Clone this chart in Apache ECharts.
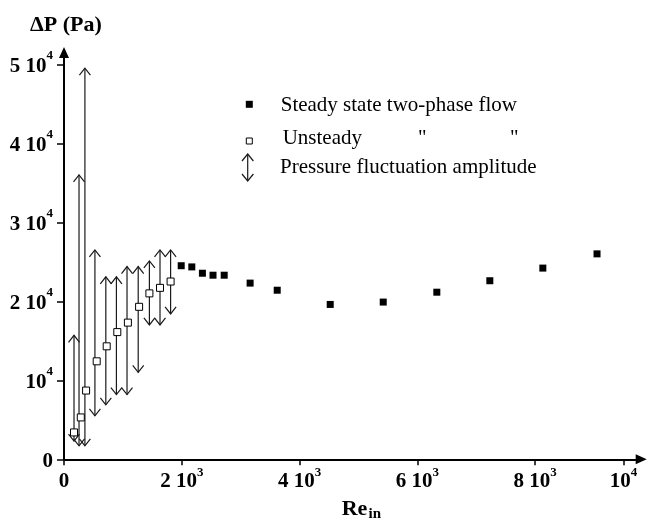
<!DOCTYPE html>
<html><head><meta charset="utf-8">
<script src="https://cdn.jsdelivr.net/npm/echarts@6/dist/echarts.min.js"></script>
<style>html,body{margin:0;padding:0;background:#fff}#c{width:648px;height:520px}</style>
</head><body><div id="c"></div>
<script>
// Steady state two-phase flow (filled squares)
const steadyRe = [1990, 2170, 2350, 2530, 2720, 3160, 3620, 4520, 5420, 6330, 7230, 8130, 9050];
const steadyDP = [24500, 24350, 23550, 23300, 23300, 22300, 21400, 19600, 19900, 21150, 22600, 24200, 26000];
// Unsteady two-phase flow (open squares)
const unsteadyRe = [170, 285, 375, 555, 725, 905, 1085, 1275, 1450, 1630, 1810];
const unsteadyDP = [3400, 5300, 8700, 12400, 14300, 16100, 17300, 19300, 21000, 21700, 22500];
// Pressure fluctuation amplitude (double arrows)
const flucRe = [170, 255, 355, 525, 710, 890, 1070, 1260, 1450, 1630, 1810];
const flucLow = [2300, 1700, 1700, 5500, 6900, 8200, 8200, 11000, 17000, 17000, 18400];
const flucHigh = [15700, 36000, 49500, 26500, 23100, 23100, 24400, 24400, 25100, 26500, 26500];
// Axis ticks and labels [base, superscript]
const xTicks = [0, 2000, 4000, 6000, 8000, 9500];
const xTickLabels = [['0', ''], ['2 10', '3'], ['4 10', '3'], ['6 10', '3'], ['8 10', '3'], ['10', '4']];
const yTicks = [0, 10000, 20000, 30000, 40000, 50000];
const yTickLabels = [['0', ''], ['10', '4'], ['2 10', '4'], ['3 10', '4'], ['4 10', '4'], ['5 10', '4']];
const legendTexts = ['Steady state two-phase flow', 'Unsteady', 'Pressure fluctuation amplitude'];

const FONT = '"Liberation Serif", "Times New Roman", serif';
function mkFormatter(ticks, labels) {
  return function (v) {
    const i = ticks.indexOf(v);
    if (i < 0) return '';
    const l = labels[i];
    return l[1] ? '{b|' + l[0] + '}{s|' + l[1] + '}' : '{b|' + l[0] + '}';
  };
}
const rich = {
  b: { fontFamily: FONT, fontWeight: 'bold', fontSize: 21, color: '#000', lineHeight: 30 },
  s: { fontFamily: FONT, fontWeight: 'bold', fontSize: 13, color: '#000', verticalAlign: 'top', lineHeight: 14 }
};
const richY = {
  b: { fontFamily: FONT, fontWeight: 'bold', fontSize: 21, color: '#000', lineHeight: 30, padding: [4, 0, 0, 0] },
  s: { fontFamily: FONT, fontWeight: 'bold', fontSize: 13, color: '#000', verticalAlign: 'top', lineHeight: 14 }
};

const chart = echarts.init(document.getElementById('c'), null, { renderer: 'canvas' });
const arrowStyle = { stroke: '#1a1a1a', lineWidth: 1.2, fill: 'none' };
chart.setOption({
  animation: false,
  backgroundColor: '#fff',
  grid: { left: 64, top: 52.4, width: 577.2, height: 406.9 },
  xAxis: {
    type: 'value', min: 0, max: 9800,
    axisLine: { lineStyle: { color: '#000', width: 2 }, symbol: ['none', 'triangle'], symbolSize: [10, 11] },
    axisTick: { customValues: xTicks, length: 6, lineStyle: { color: '#000', width: 1.5 } },
    axisLabel: { customValues: xTicks, formatter: mkFormatter(xTicks, xTickLabels), rich: rich, margin: 7 },
    splitLine: { show: false }
  },
  yAxis: {
    type: 'value', min: 0, max: 51500,
    axisLine: { lineStyle: { color: '#000', width: 2 }, symbol: ['none', 'triangle'], symbolSize: [10, 11] },
    axisTick: { customValues: yTicks, length: 7, lineStyle: { color: '#000', width: 1.5 } },
    axisLabel: { customValues: yTicks, formatter: mkFormatter(yTicks, yTickLabels), rich: richY, margin: 11 },
    splitLine: { show: false }
  },
  series: [
    {
      type: 'custom',
      data: flucRe.map((x, i) => [x, flucLow[i], flucHigh[i]]),
      encode: { x: 0, y: [1, 2] },
      renderItem: function (params, api) {
        const x = api.value(0);
        const top = api.coord([x, api.value(2)]);
        const bot = api.coord([x, api.value(1)]);
        const w = 5.5, h = 7;
        return {
          type: 'group', children: [
            { type: 'line', shape: { x1: top[0], y1: top[1], x2: bot[0], y2: bot[1] }, style: arrowStyle },
            { type: 'polyline', shape: { points: [[top[0] - w, top[1] + h], [top[0], top[1]], [top[0] + w, top[1] + h]] }, style: arrowStyle },
            { type: 'polyline', shape: { points: [[bot[0] - w, bot[1] - h], [bot[0], bot[1]], [bot[0] + w, bot[1] - h]] }, style: arrowStyle }
          ]
        };
      },
      z: 2
    },
    {
      type: 'scatter',
      data: unsteadyRe.map((x, i) => [x, unsteadyDP[i]]),
      symbol: 'rect', symbolSize: 7,
      itemStyle: { color: '#fff', borderColor: '#000', borderWidth: 1, opacity: 1 },
      z: 3
    },
    {
      type: 'scatter',
      data: steadyRe.map((x, i) => [x, steadyDP[i]]),
      symbol: 'rect', symbolSize: 7,
      itemStyle: { color: '#000', opacity: 1 },
      z: 3
    }
  ],
  graphic: [
    { type: 'text', x: 30, y: 25, style: { text: 'ΔP (Pa)', font: 'bold 22px ' + FONT, fill: '#000', verticalAlign: 'middle' } },
    { type: 'text', x: 341.7, y: 509, style: { text: 'Re', font: 'bold 22px ' + FONT, fill: '#000', verticalAlign: 'middle' } },
    { type: 'text', x: 368.5, y: 514, style: { text: 'in', font: 'bold 15px ' + FONT, fill: '#000', verticalAlign: 'middle' } },
    { type: 'rect', shape: { x: 245.8, y: 100.8, width: 7, height: 7 }, style: { fill: '#000' } },
    { type: 'rect', shape: { x: 246.3, y: 138, width: 6, height: 6 }, style: { fill: '#fff', stroke: '#000', lineWidth: 1 } },
    { type: 'line', shape: { x1: 247.7, y1: 154, x2: 247.7, y2: 181 }, style: arrowStyle },
    { type: 'polyline', shape: { points: [[242, 161], [247.7, 154], [253.4, 161]] }, style: arrowStyle },
    { type: 'polyline', shape: { points: [[242, 174], [247.7, 181], [253.4, 174]] }, style: arrowStyle },
    { type: 'text', x: 280.7, y: 105, style: { text: legendTexts[0], font: '21px ' + FONT, fill: '#000', verticalAlign: 'middle' } },
    { type: 'text', x: 282.7, y: 138.5, style: { text: legendTexts[1], font: '21px ' + FONT, fill: '#000', verticalAlign: 'middle' } },
    { type: 'text', x: 418, y: 138.5, style: { text: '"', font: '21px ' + FONT, fill: '#000', verticalAlign: 'middle' } },
    { type: 'text', x: 510, y: 138.5, style: { text: '"', font: '21px ' + FONT, fill: '#000', verticalAlign: 'middle' } },
    { type: 'text', x: 280, y: 167.5, style: { text: legendTexts[2], font: '21px ' + FONT, fill: '#000', verticalAlign: 'middle' } }
  ]
});
</script></body></html>
